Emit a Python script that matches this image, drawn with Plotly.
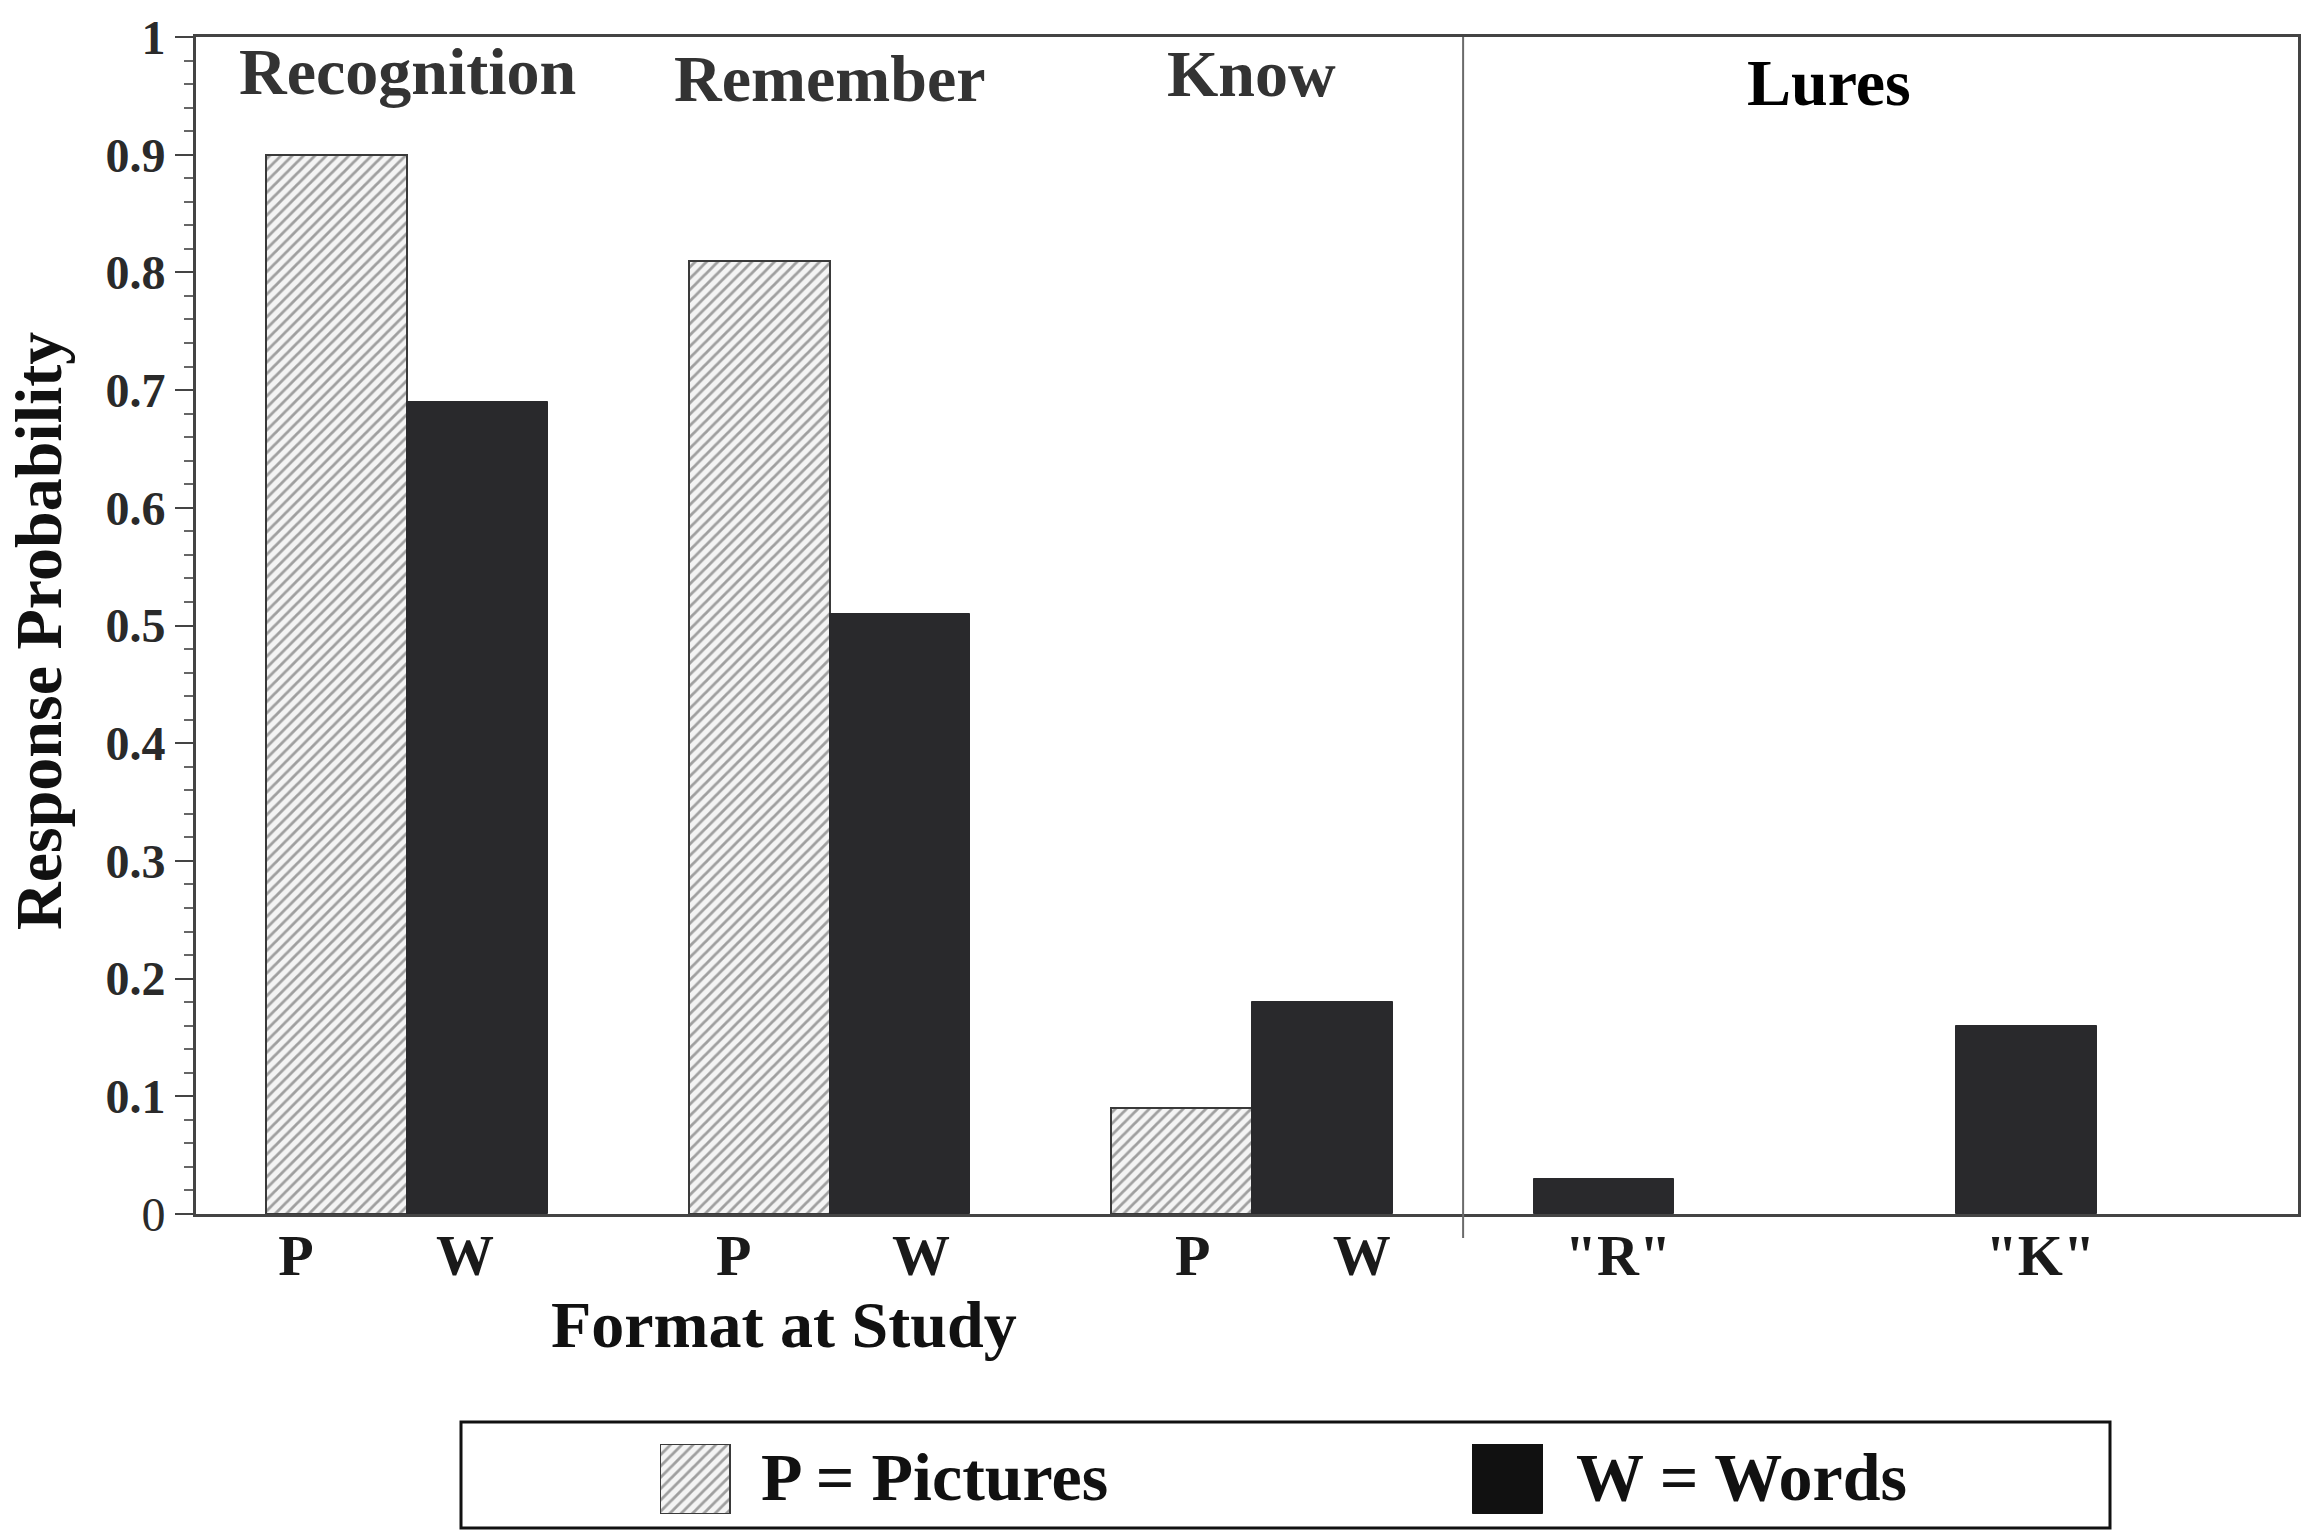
import plotly.graph_objects as go

# ---- data ----
GROUPS = ["Recognition", "Remember", "Know"]
PICTURES = [0.90, 0.81, 0.09]
WORDS = [0.69, 0.51, 0.18]
LURES_TITLE = "Lures"
LURE_LABELS = ['"R"', '"K"']
LURES_WORDS = [0.03, 0.16]
X_TICK_LABELS = ["<b>P</b>", "W", "P", "W", "P", "W", '"R"', '"K"']
Y_TICK_VALUES = [0, 0.1, 0.2, 0.3, 0.4, 0.5, 0.6, 0.7, 0.8, 0.9, 1.0]
Y_TICK_LABELS = ["0", "0.1", "0.2", "0.3", "0.4", "0.5", "0.6", "0.7", "0.8", "0.9", "1"]
LEGEND_LABELS = ["P = Pictures", "W = Words"]
X_TITLE = "Format at Study"
Y_TITLE = "Response Probability"

# ---- layout constants ----
FONT = "Liberation Serif"
W_FILL = "#29292c"
STEP = 3
pic_x = [1 + STEP * i for i in range(len(GROUPS))]
word_x = [2 + STEP * i for i in range(len(GROUPS))]
lure_x = [10, 13]
divider_x = 9
label_offsets = [-0.29, -0.09, -0.18, 0.15, 0.08, 0.28, 0.1, 0.1]
tick_pos = [x + o for x, o in zip(sorted(pic_x + word_x) + lure_x, label_offsets)]
y_ticktext = [t if t == "0" else f"<b>{t}</b>" for t in Y_TICK_LABELS]

hatch = dict(shape="/", fgcolor="#4a4a4a", bgcolor="#f4f4f4", size=8, solidity=0.35)

fig = go.Figure()
fig.add_trace(go.Bar(x=pic_x, y=PICTURES, width=1, name=LEGEND_LABELS[0],
                     marker=dict(color="#f4f4f4", pattern=hatch,
                                 line=dict(color="#3a3a3a", width=2)),
                     showlegend=False))
fig.add_trace(go.Bar(x=word_x, y=WORDS, width=1, name=LEGEND_LABELS[1],
                     marker=dict(color=W_FILL, line=dict(color=W_FILL, width=1)),
                     showlegend=False))
fig.add_trace(go.Bar(x=lure_x, y=LURES_WORDS, width=1, name="Lures",
                     marker=dict(color=W_FILL, line=dict(color=W_FILL, width=1)),
                     showlegend=False))

# legend swatches on a small hidden subplot
fig.add_trace(go.Bar(x=[0.5], y=[1], width=1, xaxis="x2", yaxis="y2", showlegend=False,
                     marker=dict(color="#f4f4f4", pattern=hatch,
                                 line=dict(color="#3a3a3a", width=2))))
fig.add_trace(go.Bar(x=[12.11], y=[1], width=1, xaxis="x2", yaxis="y2", showlegend=False,
                     marker=dict(color="#111111", line=dict(color="#111111", width=1))))

L, R, T, B = 196, 12, 37, 0
W, H = 2310, 1530
pw, ph = W - L - R, H - T - B


def px(x):
    return (x - L) / pw


def py(y):
    return (H - B - y) / ph


y_bottom = py(1214)

annotations = []
header_y = [0.971, 0.965, 0.969]
for i, g in enumerate(GROUPS):
    annotations.append(dict(x=(pic_x[i] + word_x[i]) / 2, y=header_y[i], xref="x", yref="y",
                            text=f"<b>{g}</b>", showarrow=False, yanchor="middle",
                            xanchor="center",
                            font=dict(family=FONT, size=66, color="#333333")))
annotations.append(dict(x=sum(lure_x) / 2 + 0.1, y=0.961, xref="x", yref="y",
                        text=f"<b>{LURES_TITLE}</b>", showarrow=False, yanchor="middle",
                        xanchor="center",
                        font=dict(family=FONT, size=66, color="#000000")))
annotations.append(dict(x=px(784), y=py(1324), xref="paper", yref="paper",
                        text=f"<b>{X_TITLE}</b>", showarrow=False, yanchor="middle",
                        xanchor="center",
                        font=dict(family=FONT, size=66, color="#111111")))
annotations.append(dict(x=px(38), y=py(631), xref="paper", yref="paper", textangle=-90,
                        text=f"<b>{Y_TITLE}</b>", showarrow=False, yanchor="middle",
                        xanchor="center",
                        font=dict(family=FONT, size=66, color="#111111")))
annotations.append(dict(x=px(759), y=py(1477), xref="paper", yref="paper", xanchor="left",
                        text=f"<b>{LEGEND_LABELS[0]}</b>", showarrow=False, yanchor="middle",
                        font=dict(family=FONT, size=68, color="#111111")))
annotations.append(dict(x=px(1574), y=py(1477), xref="paper", yref="paper", xanchor="left",
                        text=f"<b>{LEGEND_LABELS[1]}</b>", showarrow=False, yanchor="middle",
                        font=dict(family=FONT, size=68, color="#111111")))

shapes = [
    dict(type="line", xref="x", yref="paper", x0=divider_x, x1=divider_x,
         y0=y_bottom - 0.016, y1=1, line=dict(color="#6a6a6a", width=2)),
    dict(type="rect", xref="paper", yref="paper", x0=px(461), x1=px(2110),
         y0=py(1528), y1=py(1422), line=dict(color="#111111", width=3)),
]

fig.update_layout(
    width=W, height=H,
    margin=dict(l=L, r=R, t=T, b=B, autoexpand=False),
    paper_bgcolor="white", plot_bgcolor="white",
    barmode="overlay",
    bargap=0,
    showlegend=False,
    annotations=annotations,
    shapes=shapes,
    xaxis=dict(range=[0, 14.93], domain=[0, 1], tickmode="array",
               tickvals=tick_pos, ticktext=X_TICK_LABELS, ticks="",
               tickfont=dict(family=FONT, size=58, color="#1a1a1a", weight="bold"),
               showline=True, linecolor="#444444", linewidth=3, mirror=True,
               showgrid=False, zeroline=False, ticklabelstandoff=-12, automargin=False),
    yaxis=dict(range=[0, 1], domain=[y_bottom, 1], tickmode="array",
               tickvals=Y_TICK_VALUES, ticktext=y_ticktext,
               ticks="outside", ticklen=18, tickwidth=2, tickcolor="#444444",
               tickfont=dict(family=FONT, size=48, color="#2a2a2a"),
               minor=dict(dtick=0.02, ticks="outside", ticklen=9, tickwidth=2,
                          tickcolor="#666666", showgrid=False),
               showline=True, linecolor="#444444", linewidth=3, mirror=True,
               showgrid=False, zeroline=False, automargin=False),
    xaxis2=dict(domain=[px(660), px(660) + 884 / pw], range=[0, 12.63], visible=False,
                anchor="y2", automargin=False),
    yaxis2=dict(domain=[py(1514), py(1444)], range=[0, 1], visible=False, anchor="x2",
                automargin=False),
)

fig.write_html("out.html", config={"displayModeBar": False},
               post_script="document.body.style.margin='0';document.body.style.overflow='hidden';")
